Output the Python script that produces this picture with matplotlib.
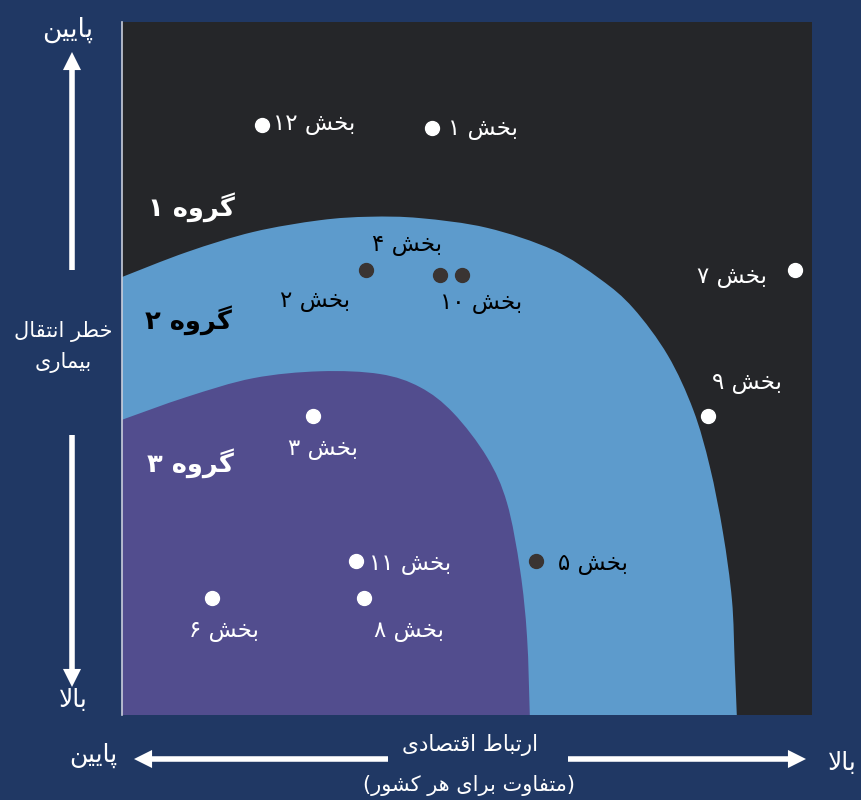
import matplotlib.pyplot as plt
from matplotlib.path import Path
from matplotlib.patches import PathPatch

plt.rcParams['font.family'] = ['DejaVu Sans']

# region boundaries (x: economic link 0-100, y: risk 0-100 from bottom)
blue_x = [0, 9.4, 19.0, 28.7, 35.9, 43.2, 52.9, 62.5, 69.3, 74.1, 79.1, 82.8, 85.2, 87.1, 88.4, 88.8, 89.1]
blue_y = [63.2, 66.8, 69.7, 71.4, 71.9, 71.7, 70.3, 67.1, 62.9, 58.7, 51.9, 44.0, 35.8, 26.3, 16.6, 7.5, 0]
purple_x = [0, 9.4, 19.0, 28.7, 37.4, 43.2, 48.0, 52.9, 55.8, 57.7, 58.7, 59.1]
purple_y = [42.6, 45.9, 48.6, 49.6, 49.2, 47.3, 43.6, 37.2, 30.6, 20.9, 11.3, 0]

# sectors
sector_num = ['۱۲', '۱', '۲', '۴', '۱۰', '۷', '۹', '۳', '۱۱', '۸', '۶', '۵']
sector_x = [20.3, 44.9, 35.4, 46.1, 49.3, 97.5, 84.9, 27.7, 33.9, 35.1, 13.0, 60.0]
sector_y = [85.1, 84.7, 64.2, 63.5, 63.5, 64.2, 43.1, 43.1, 22.2, 16.9, 16.9, 22.2]
sector_dark = [False, False, True, True, True, False, False, False, False, False, False, True]

# label offsets from dot, in pixels
label_dx = [52, 51, -51, -33, 19, -63, 39, 10, 54, 45, 12, 57]
label_dy = [-2, 0, 30, -30, 28, 6, -34, 32, 2, 33, 33, 2]

groups = ['گروه ۱', 'گروه ۲', 'گروه ۳']
group_x = [10.1, 9.7, 9.9]
group_y = [73.3, 57.0, 36.4]
group_color = ['white', 'black', 'white']

NAVY = '#203864'
BLACK = '#252629'
BLUE = '#5d9bcc'
PURPLE = '#524d8e'
DOT_DARK = '#3a3432'

# --- minimal Persian shaping (matplotlib has no RTL/joining support) ---
FORMS = {
    '\u0627': ('\uFE8D', '\uFE8E'),
    '\u062F': ('\uFEA9', '\uFEAA'),
    '\u0631': ('\uFEAD', '\uFEAE'),
    '\u0648': ('\uFEED', '\uFEEE'),
    '\u0628': ('\uFE8F', '\uFE90', '\uFE91', '\uFE92'),
    '\u062A': ('\uFE95', '\uFE96', '\uFE97', '\uFE98'),
    '\u062E': ('\uFEA5', '\uFEA6', '\uFEA7', '\uFEA8'),
    '\u0634': ('\uFEB5', '\uFEB6', '\uFEB7', '\uFEB8'),
    '\u0635': ('\uFEB9', '\uFEBA', '\uFEBB', '\uFEBC'),
    '\u0637': ('\uFEC1', '\uFEC2', '\uFEC3', '\uFEC4'),
    '\u0641': ('\uFED1', '\uFED2', '\uFED3', '\uFED4'),
    '\u0642': ('\uFED5', '\uFED6', '\uFED7', '\uFED8'),
    '\u0644': ('\uFEDD', '\uFEDE', '\uFEDF', '\uFEE0'),
    '\u0645': ('\uFEE1', '\uFEE2', '\uFEE3', '\uFEE4'),
    '\u0646': ('\uFEE5', '\uFEE6', '\uFEE7', '\uFEE8'),
    '\u0647': ('\uFEE9', '\uFEEA', '\uFEEB', '\uFEEC'),
    '\u06CC': ('\uFBFC', '\uFBFD', '\uFBFE', '\uFBFF'),
    '\u067E': ('\uFB56', '\uFB57', '\uFB58', '\uFB59'),
    '\u06A9': ('\uFB8E', '\uFB8F', '\uFB90', '\uFB91'),
    '\u06AF': ('\uFB92', '\uFB93', '\uFB94', '\uFB95'),
}
LAM_ALEF = ('\uFEFB', '\uFEFC')


def shape_word(w):
    out = []
    i = 0
    prev_joins = False
    while i < len(w):
        c = w[i]
        if c not in FORMS:
            out.append(c)
            prev_joins = False
            i += 1
            continue
        if c == '\u0644' and i + 1 < len(w) and w[i + 1] == '\u0627':
            out.append(LAM_ALEF[1 if prev_joins else 0])
            prev_joins = False
            i += 2
            continue
        f = FORMS[c]
        nxt = w[i + 1] if i + 1 < len(w) else None
        next_ok = len(f) == 4 and nxt in FORMS
        if prev_joins and next_ok:
            g = f[3]
        elif prev_joins:
            g = f[1]
        elif next_ok:
            g = f[2]
        else:
            g = f[0]
        out.append(g)
        prev_joins = next_ok
        i += 1
    return ''.join(reversed(out))


def fa(text):
    lines = []
    for line in text.split('\n'):
        paren = line.startswith('(') and line.endswith(')')
        if paren:
            line = line[1:-1]
        toks = []
        for t in line.split(' '):
            if any(ch in FORMS for ch in t):
                toks.append(shape_word(t))
            else:
                toks.append(t)
        s = ' '.join(reversed(toks))
        if paren:
            s = '(' + s + ')'
        lines.append(s)
    return '\n'.join(lines)


def smooth_region(xs, ys):
    # Catmull-Rom through the read points, drawn as cubic Bezier segments
    pts = list(zip(xs, ys))
    ext = [pts[0]] + pts + [pts[-1]]
    verts = [(0, 0), pts[0]]
    codes = [Path.MOVETO, Path.LINETO]
    for i in range(1, len(ext) - 2):
        p0, p1, p2, p3 = ext[i - 1], ext[i], ext[i + 1], ext[i + 2]
        c1 = (p1[0] + (p2[0] - p0[0]) / 6, p1[1] + (p2[1] - p0[1]) / 6)
        c2 = (p2[0] - (p3[0] - p1[0]) / 6, p2[1] - (p3[1] - p1[1]) / 6)
        verts += [c1, c2, p2]
        codes += [Path.CURVE4] * 3
    verts += [(0, 0)]
    codes += [Path.CLOSEPOLY]
    return Path(verts, codes)


fig = plt.figure(figsize=(8.62, 8.0), dpi=100, facecolor=NAVY)
ax = fig.add_axes([122 / 862, 85 / 800, 690 / 862, 693 / 800])
ax.set_facecolor(BLACK)
ax.set_xlim(0, 100)
ax.set_ylim(0, 100)
ax.set_xticks([])
ax.set_yticks([])
for s in ['top', 'right', 'bottom']:
    ax.spines[s].set_visible(False)
ax.spines['left'].set_color('#c9cedb')
ax.spines['left'].set_linewidth(1.2)

ax.add_patch(PathPatch(smooth_region(blue_x, blue_y), facecolor=BLUE, edgecolor='none'))
ax.add_patch(PathPatch(smooth_region(purple_x, purple_y), facecolor=PURPLE, edgecolor='none'))

for name, x, y, c in zip(groups, group_x, group_y, group_color):
    ax.text(x, y, fa(name), color=c, fontsize=18.5, fontweight='bold', ha='center', va='center')

for num, x, y, dark, dx, dy in zip(sector_num, sector_x, sector_y, sector_dark, label_dx, label_dy):
    ax.scatter([x], [y], s=100, color=DOT_DARK if dark else 'white', zorder=3, clip_on=False)
    ax.annotate(fa('بخش ' + num), (x, y), xytext=(dx, -dy), textcoords='offset pixels',
                ha='center', va='center', fontsize=16.5,
                color='black' if dark else 'white', annotation_clip=False)

# axis arrows and captions outside the plot area
arrow = dict(arrowstyle='simple,head_width=13,head_length=13,tail_width=4',
             mutation_scale=1, color='white', shrinkA=0, shrinkB=0, lw=0)
for tail, head in [((72, 530), (72, 748)), ((72, 365), (72, 113)),
                   ((388, 41), (134, 41)), ((568, 41), (806, 41))]:
    ax.annotate('', xy=head, xytext=tail, xycoords='figure pixels',
                textcoords='figure pixels', arrowprops=arrow, annotation_clip=False)

fig.text(68 / 862, 1 - 30 / 800, fa('پایین'), color='white', fontsize=19, ha='center', va='center')
fig.text(63 / 862, 1 - 347 / 800, fa('خطر انتقال\nبیماری'), color='white', fontsize=15,
         ha='center', va='center', linespacing=1.6)
fig.text(73 / 862, 1 - 700 / 800, fa('بالا'), color='white', fontsize=18, ha='center', va='center')
fig.text(93 / 862, 1 - 755 / 800, fa('پایین'), color='white', fontsize=18, ha='center', va='center')
fig.text(470 / 862, 1 - 745 / 800, fa('ارتباط اقتصادی'), color='white', fontsize=15.5, ha='center', va='center')
fig.text(469 / 862, 1 - 785 / 800, fa('(متفاوت برای هر کشور)'), color='white', fontsize=15,
         ha='center', va='center')
fig.text(828 / 862, 1 - 763 / 800, fa('بالا'), color='white', fontsize=18, ha='left', va='center')

fig.savefig('out.png', dpi=100, facecolor=NAVY)
